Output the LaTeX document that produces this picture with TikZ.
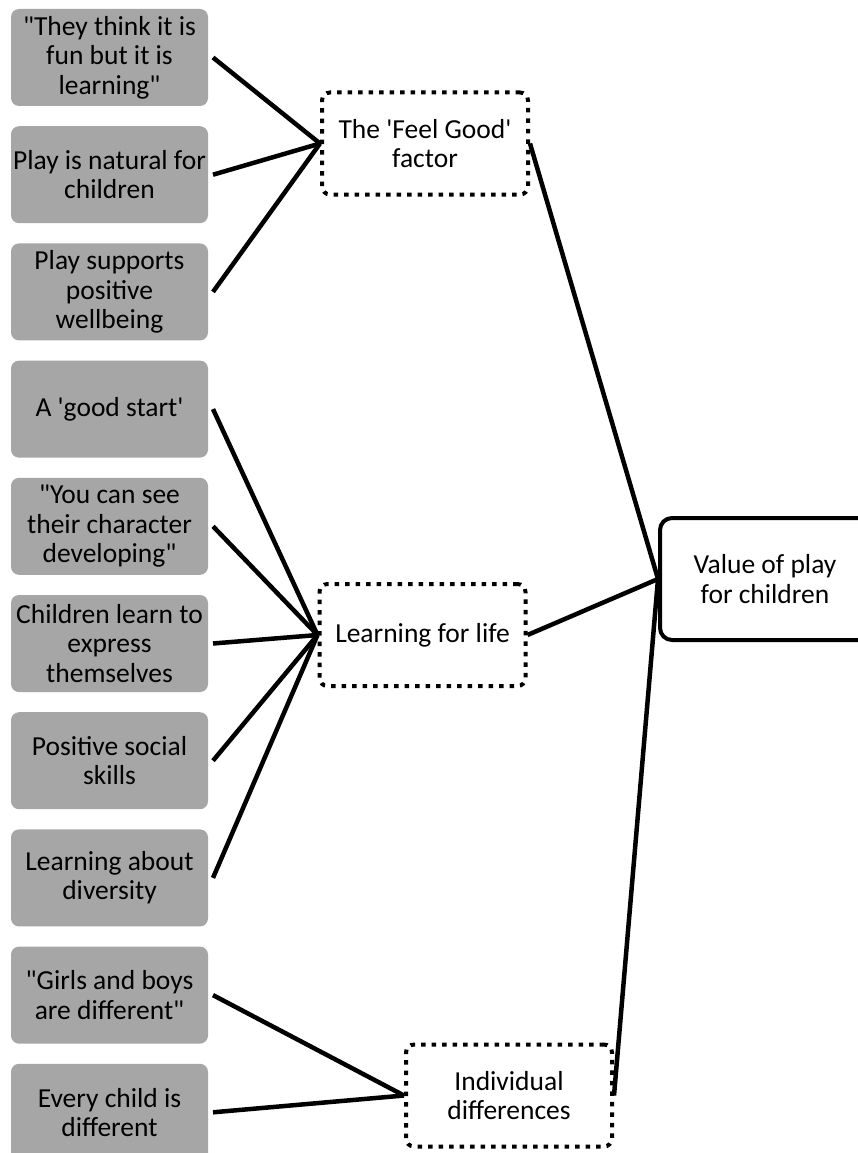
\documentclass[tikz,border=0pt]{standalone}
\usepackage{fontspec}
\setmainfont{Carlito}[Ligatures=TeXOff]
\usepackage{tikz}
\usetikzlibrary{positioning}
\usepackage{xcolor}
\definecolor{ideaGray}{HTML}{A6A6A6}
\tikzset{
  idea/.style={fill=ideaGray, rounded corners=8pt, minimum width=197pt,
    minimum height=97pt, inner sep=1pt, outer sep=5pt, align=center,
    font=\fontsize{27.5}{29.5}\selectfont},
  theme/.style={draw, fill=white, line width=4pt, dash pattern=on 4.5pt off 6pt,
    rounded corners=8pt, minimum width=206pt, minimum height=102pt,
    inner sep=2pt, align=center, font=\fontsize{27.5}{29.5}\selectfont},
  core/.style={draw, fill=white, line width=4pt, rounded corners=12pt,
    minimum width=210pt, minimum height=122pt, align=center,
    font=\fontsize{27.5}{29.5}\selectfont},
  link/.style={line width=4.5pt}
}
\begin{document}
\begin{tikzpicture}[x=1pt,y=-1pt]
  \clip (0,0) rectangle (858,1153);
  \fill[white] (0,0) rectangle (858,1153);
  % left column
  \node[idea] (fun) at (109.5,57.5) {"They think it is\\fun but it is\\learning"};
  \node[idea] (natural) at (109.5,174.7) {Play is natural for\\children};
  \node[idea] (wellbeing) at (109.5,291.9) {Play supports\\positive\\wellbeing};
  \node[idea] (start) at (109.5,409.1) {A 'good start'};
  \node[idea] (character) at (109.5,526.3) {"You can see\\their character\\developing"};
  \node[idea] (express) at (109.5,643.5) {Children learn to\\express\\themselves};
  \node[idea] (social) at (109.5,760.7) {Positive social\\skills};
  \node[idea] (diversity) at (109.5,877.9) {Learning about\\diversity};
  \node[idea] (girls) at (109.5,995.1) {"Girls and boys\\are different"};
  \node[idea] (everychild) at (109.5,1112.3) {Every child is\\different};
  % themes
  \node[theme] (feel) at (425,143.5) {The 'Feel Good'\\factor};
  \node[theme] (learning) at (422.5,635) {Learning for life};
  \node[theme] (individual) at (509,1095.5) {Individual\\differences};
  \node[core] (value) at (765,579) {Value of play\\for children};
  % links
  \draw[link] (fun.east) -- (feel.west);
  \draw[link] (natural.east) -- (feel.west);
  \draw[link] (wellbeing.east) -- (feel.west);
  \draw[link] (start.east) -- (learning.west);
  \draw[link] (character.east) -- (learning.west);
  \draw[link] (express.east) -- (learning.west);
  \draw[link] (social.east) -- (learning.west);
  \draw[link] (diversity.east) -- (learning.west);
  \draw[link] (girls.east) -- (individual.west);
  \draw[link] (everychild.east) -- (individual.west);
  \draw[link] (feel.east) -- (value.west);
  \draw[link] (learning.east) -- (value.west);
  \draw[link] (individual.east) -- (value.west);
\end{tikzpicture}
\end{document}
